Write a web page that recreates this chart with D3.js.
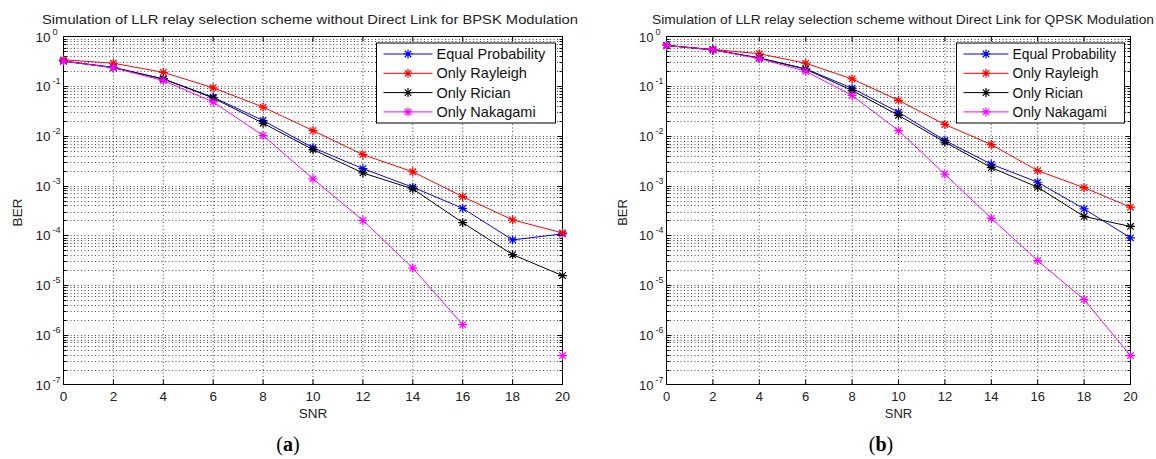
<!DOCTYPE html>
<html>
<head>
<meta charset="utf-8">
<script src="https://cdn.jsdelivr.net/npm/d3@7"></script>
<style>
  body { margin: 0; background: #fff; }
  svg { display: block; font-family: "Liberation Sans", Arial, Helvetica, sans-serif; }
  .grid { stroke: #222; stroke-width: 0.8; stroke-dasharray: 1,2.5; fill: none; }
  .box { fill: none; stroke: #000; stroke-width: 1; }
  .tick { stroke: #000; stroke-width: 1; }
  .series { fill: none; stroke-width: 1; }
  .marker { fill: none; stroke-width: 1.2; }
</style>
</head>
<body>
<svg id="chart" width="1156" height="459"></svg>
<script>
var snr = [0, 2, 4, 6, 8, 10, 12, 14, 16, 18, 20];
var seriesNames = ["Equal Probability", "Only Rayleigh", "Only Rician", "Only Nakagami"];
var seriesColors = ["#0000ff", "#ff0000", "#000000", "#ff00ff"];
var xTicks = [0, 2, 4, 6, 8, 10, 12, 14, 16, 18, 20];
var yExponents = [0, -1, -2, -3, -4, -5, -6, -7];

// (a) BPSK
var bpskEqual    = [0.32, 0.24, 0.14, 0.06, 0.0204, 0.0058, 0.0022, 0.00093, 0.00035, 8.1e-5, 1.07e-4];
var bpskRayleigh = [0.34, 0.29, 0.19, 0.093, 0.038, 0.0128, 0.0042, 0.0019, 0.0006, 0.000205, 1.12e-4];
var bpskRician   = [0.32, 0.235, 0.14, 0.058, 0.018, 0.0053, 0.0018, 0.00086, 0.00018, 4.1e-5, 1.55e-5];
var bpskNakagami = [0.32, 0.235, 0.13, 0.048, 0.0102, 0.00137, 0.0002, 2.2e-5, 1.6e-6, null, 3.8e-7];

// (b) QPSK
var qpskEqual    = [0.66, 0.54, 0.37, 0.224, 0.091, 0.030, 0.0081, 0.0027, 0.00117, 0.00034, 8.9e-5];
var qpskRayleigh = [0.66, 0.55, 0.45, 0.29, 0.14, 0.052, 0.017, 0.0067, 0.002, 0.00091, 0.00037];
var qpskRician   = [0.66, 0.54, 0.37, 0.22, 0.082, 0.026, 0.0075, 0.0023, 0.00093, 0.00024, 0.000151];
var qpskNakagami = [0.66, 0.54, 0.36, 0.2, 0.065, 0.0128, 0.0017, 0.00022, 3.1e-5, 5.1e-6, 3.8e-7];

var svg = d3.select("#chart");

function asterisk(r) {
  var a = r * 0.72;
  return "M" + (-r) + ",0H" + r + "M0," + (-r) + "V" + r +
    "M" + (-a) + "," + (-a) + "L" + a + "," + a +
    "M" + (-a) + "," + a + "L" + a + "," + (-a);
}

function drawPanel(opt) {
  var g = svg.append("g");
  var x = d3.scaleLinear().domain([0, 20]).range([opt.left, opt.right]);
  var y = d3.scaleLog().domain([1e-7, 1]).range([opt.bottom, opt.top]);

  // grid: vertical lines at x ticks
  g.selectAll(".vgrid")
    .data(xTicks.slice(1, -1))
    .enter().append("line")
    .attr("class", "grid")
    .attr("x1", function(d) { return x(d); })
    .attr("x2", function(d) { return x(d); })
    .attr("y1", opt.top)
    .attr("y2", opt.bottom);

  // horizontal grid at every major and minor log tick
  var logTicks = [];
  for (var e = -7; e < 0; e++) {
    for (var m = 1; m < 10; m++) {
      logTicks.push(m * Math.pow(10, e));
    }
  }
  g.selectAll(".hgrid")
    .data(logTicks.slice(1))
    .enter().append("line")
    .attr("class", "grid")
    .attr("x1", opt.left)
    .attr("x2", opt.right)
    .attr("y1", function(d) { return Math.round(y(d)) + 0.5; })
    .attr("y2", function(d) { return Math.round(y(d)) + 0.5; });

  // ticks on all four sides
  g.selectAll(".xt")
    .data(xTicks.slice(1, -1))
    .enter().append("path")
    .attr("class", "tick")
    .attr("d", function(d) {
      var px = x(d);
      return "M" + px + "," + opt.bottom + "v-5M" + px + "," + opt.top + "v5";
    });
  g.selectAll(".yt")
    .data(logTicks.slice(1))
    .enter().append("path")
    .attr("class", "tick")
    .attr("d", function(d) {
      var py = Math.round(y(d)) + 0.5;
      var len = Math.abs(Math.log10(d) - Math.round(Math.log10(d))) < 1e-9 ? 5 : 3;
      return "M" + opt.left + "," + py + "h" + len + "M" + opt.right + "," + py + "h" + (-len);
    });

  g.append("rect")
    .attr("class", "box")
    .attr("x", opt.left)
    .attr("y", opt.top)
    .attr("width", opt.right - opt.left)
    .attr("height", opt.bottom - opt.top);

  // x tick labels
  g.selectAll(".xl")
    .data(xTicks)
    .enter().append("text")
    .attr("x", function(d) { return x(d); })
    .attr("y", opt.bottom + 16)
    .attr("text-anchor", "middle")
    .attr("font-size", opt.fs)
    .attr("fill", "#222")
    .text(function(d) { return d; });

  // y tick labels 10^n
  var yl = g.selectAll(".yl")
    .data(yExponents)
    .enter().append("text")
    .attr("x", opt.left - 13)
    .attr("y", function(d) { return y(Math.pow(10, d)) + 5; })
    .attr("text-anchor", "end")
    .attr("font-size", opt.fs)
    .attr("fill", "#222");
  yl.append("tspan").text("10");
  yl.append("tspan")
    .attr("x", opt.left - 11)
    .attr("dy", -7)
    .attr("text-anchor", "start")
    .attr("font-size", opt.fs * 0.68)
    .text(function(d) { return d; });

  // axis labels and title
  g.append("text")
    .attr("x", (opt.left + opt.right) / 2)
    .attr("y", opt.bottom + 33)
    .attr("text-anchor", "middle")
    .attr("font-size", opt.fs)
    .attr("fill", "#222")
    .text("SNR");
  g.append("text")
    .attr("transform", "translate(" + opt.berX + "," + ((opt.top + opt.bottom) / 2 + 2) + ") rotate(-90)")
    .attr("text-anchor", "middle")
    .attr("font-size", opt.fs)
    .attr("fill", "#222")
    .text("BER");
  g.append("text")
    .attr("x", opt.titleX)
    .attr("y", 24)
    .attr("textLength", opt.titleW)
    .attr("lengthAdjust", "spacingAndGlyphs")
    .attr("font-size", 13.5)
    .attr("fill", "#222")
    .text(opt.title);

  // series
  var line = d3.line()
    .defined(function(d) { return d[1] != null; })
    .x(function(d) { return x(d[0]); })
    .y(function(d) { return y(d[1]); });

  opt.data.forEach(function(vals, i) {
    var pts = snr.map(function(s, k) { return [s, vals[k]]; });
    g.append("path")
      .attr("class", "series")
      .attr("stroke", seriesColors[i])
      .attr("d", line(pts));
    g.selectAll(".m" + i)
      .data(pts.filter(function(d) { return d[1] != null; }))
      .enter().append("path")
      .attr("class", "marker")
      .attr("stroke", seriesColors[i])
      .attr("transform", function(d) { return "translate(" + x(d[0]) + "," + y(d[1]) + ")"; })
      .attr("d", asterisk(4.5));
  });

  // legend
  var lg = g.append("g");
  lg.append("rect")
    .attr("x", opt.legX)
    .attr("y", 43)
    .attr("width", opt.legW)
    .attr("height", 80)
    .attr("fill", "#fff")
    .attr("stroke", "#000");
  seriesNames.forEach(function(name, i) {
    var ly = 54 + i * 19.3;
    lg.append("line")
      .attr("x1", opt.legX + 7)
      .attr("x2", opt.legX + 7 + opt.legLine)
      .attr("y1", ly)
      .attr("y2", ly)
      .attr("stroke", seriesColors[i]);
    lg.append("path")
      .attr("class", "marker")
      .attr("stroke", seriesColors[i])
      .attr("transform", "translate(" + (opt.legX + 7 + opt.legLine / 2) + "," + ly + ")")
      .attr("d", asterisk(4.5));
    lg.append("text")
      .attr("x", opt.legX + 11 + opt.legLine)
      .attr("y", ly + 5)
      .attr("font-size", opt.legFs)
      .attr("fill", "#111")
      .text(name);
  });

  // caption
  var cap = svg.append("text")
    .attr("x", opt.capX)
    .attr("y", 451)
    .attr("text-anchor", "middle")
    .attr("font-family", "'Liberation Serif', 'DejaVu Serif', serif")
    .attr("font-size", 20)
    .attr("fill", "#000");
  cap.append("tspan").text("(");
  cap.append("tspan").attr("font-weight", "bold").text(opt.caption);
  cap.append("tspan").text(")");
}

drawPanel({
  left: 63.5, right: 562.5, top: 36.5, bottom: 384.5,
  fs: 13.5, legFs: 14.5, berX: 22,
  title: "Simulation of LLR relay selection scheme without Direct Link for BPSK Modulation",
  titleX: 42, titleW: 536,
  legX: 376.5, legW: 179, legLine: 49,
  data: [bpskEqual, bpskRayleigh, bpskRician, bpskNakagami],
  capX: 288, caption: "a"
});

drawPanel({
  left: 666.5, right: 1130.5, top: 36.5, bottom: 384.5,
  fs: 13, legFs: 13.8, berX: 627,
  title: "Simulation of LLR relay selection scheme without Direct Link for QPSK Modulation",
  titleX: 652, titleW: 502,
  legX: 956.5, legW: 168, legLine: 45,
  data: [qpskEqual, qpskRayleigh, qpskRician, qpskNakagami],
  capX: 881, caption: "b"
});
</script>
</body>
</html>
